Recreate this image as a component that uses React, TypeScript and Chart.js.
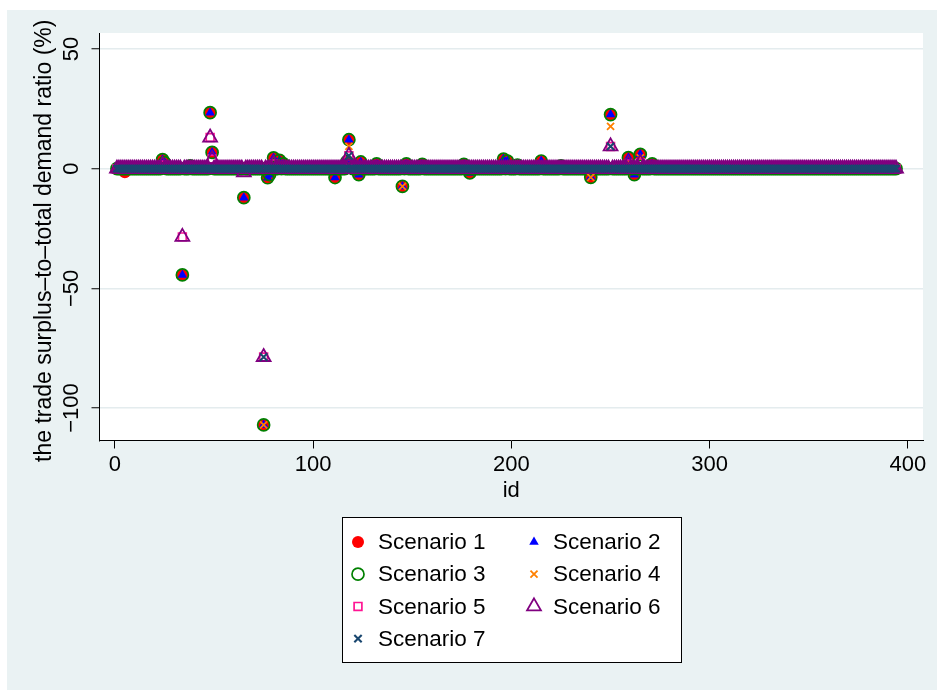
import React, { useEffect, useRef } from 'react';
import { Chart, registerables } from 'chart.js';

Chart.register(...registerables);

// ---------- Data ----------
const xTickValues = [0, 100, 200, 300, 400];
const yTickValues = [-100, -50, 0, 50];
const yTickLabels = ['\u2212100', '\u221250', '0', '50'];
const xTitle = 'id';
const yTitle = 'the trade surplus\u2013to\u2013total demand ratio (%)';
const scenarioNames = ['Scenario 1', 'Scenario 2', 'Scenario 3', 'Scenario 4', 'Scenario 5', 'Scenario 6', 'Scenario 7'];

// values for id = 1 .. 394 (20 per line)
const scenario1 = [
  0,0,0,0,-1.5,0,0,0,0,0, 0,0,0,0,0,0,0,0,0,0,
  0,0,0,3.8,2.5,0,0,0,0,0, 0,0,0,-44.4,0,0,0,1.2,0,0,
  0,0,0,0,0,0,0,23.4,6.8,0, 0,0,0,0,0,0,0,0,0,0,
  0,0,0,0,-12.1,0,0,0,0,0, 0,0,0,0,-107.1,0,-3.8,-2.5,0,4.5,
  0,0,3.5,0,2,0,0,0,0,0, 0,0,0,0,0,0,0,0,0,0,
  0,0,0,0,0,0,0,0,0,0, -3.7,0,0,0,0,0,3,12.1,2,0,
  0,0,-2.5,2.8,0,0,0,0,0,0, 0,2,0,0,0,0,0,0,0,0,
  0,0,0,0,-7.4,0,2,0,0,0, 0,0,0,0,1.8,0,0,0,0,0,
  0,0,0,0,0,0,0,0,0,0, 0,0,0,0,0,1.8,0,0,-1.8,0,
  0,0,0,0,0,0,0,0,0,0, 0,0,0,0,0,4,0,3.2,0,0,
  0,0,1.5,0,0,0,0,0,0,0, 0,0,0,0,3.2,0,0,0,0,0,
  0,0,0,0,1.2,0,0,0,0,0, 0,0,0,0,0,0,0,0,0,-3.6,
  0,0,0,0,0,0,0,0,0,22.6, 0,0,0,0,0,0,0,0,4.6,0,
  0,-2.5,0,0,6,0,0,0,0,0, 2,0,0,0,0,0,0,0,0,0,
  0,0,0,0,0,0,0,0,0,0, 0,0,0,0,0,0,0,0,0,0,
  0,0,0,0,0,0,0,0,0,0, 0,0,0,0,0,0,0,0,0,0,
  0,0,0,0,0,0,0,0,0,0, 0,0,0,0,0,0,0,0,0,0,
  0,0,0,0,0,0,0,0,0,0, 0,0,0,0,0,0,0,0,0,0,
  0,0,0,0,0,0,0,0,0,0, 0,0,0,0,0,0,0,0,0,0,
  0,0,0,0,0,0,0,0,0,0, 0,0,0,0,
];

const scenario2 = [
  0,0,0,0,0,0,0,0,0,0, 0,0,0,0,0,0,0,0,0,0,
  0,0,0,3.8,2.5,0,0,0,0,0, 0,0,0,-44.4,0,0,0,1.2,0,0,
  0,0,0,0,0,0,0,23.4,6.8,0, 0,0,0,0,0,0,0,0,0,0,
  0,0,0,0,-12.1,0,0,0,0,0, 0,0,0,0,-107.1,0,-3.8,-2.5,0,4.5,
  0,0,3.5,0,2,0,0,0,0,0, 0,0,0,0,0,0,0,0,0,0,
  0,0,0,0,0,0,0,0,0,0, -3.7,0,0,0,0,0,3,12.1,2,0,
  0,0,-2.5,2.8,0,0,0,0,0,0, 0,2,0,0,0,0,0,0,0,0,
  0,0,0,0,-7.4,0,2,0,0,0, 0,0,0,0,1.8,0,0,0,0,0,
  0,0,0,0,0,0,0,0,0,0, 0,0,0,0,0,1.8,0,0,-1.8,0,
  0,0,0,0,0,0,0,0,0,0, 0,0,0,0,0,4,0,3.2,0,0,
  0,0,1.5,0,0,0,0,0,0,0, 0,0,0,0,3.2,0,0,0,0,0,
  0,0,0,0,1.2,0,0,0,0,0, 0,0,0,0,0,0,0,0,0,-3.6,
  0,0,0,0,0,0,0,0,0,22.6, 0,0,0,0,0,0,0,0,4.6,0,
  0,-2.5,0,0,6,0,0,0,0,0, 2,0,0,0,0,0,0,0,0,0,
  0,0,0,0,0,0,0,0,0,0, 0,0,0,0,0,0,0,0,0,0,
  0,0,0,0,0,0,0,0,0,0, 0,0,0,0,0,0,0,0,0,0,
  0,0,0,0,0,0,0,0,0,0, 0,0,0,0,0,0,0,0,0,0,
  0,0,0,0,0,0,0,0,0,0, 0,0,0,0,0,0,0,0,0,0,
  0,0,0,0,0,0,0,0,0,0, 0,0,0,0,0,0,0,0,0,0,
  0,0,0,0,0,0,0,0,0,0, 0,0,0,0,
];

const scenario3 = [
  0,0,0,0,0,0,0,0,0,0, 0,0,0,0,0,0,0,0,0,0,
  0,0,0,3.8,2.5,0,0,0,0,0, 0,0,0,-44.4,0,0,0,1.2,0,0,
  0,0,0,0,0,0,0,23.4,6.8,0, 0,0,0,0,0,0,0,0,0,0,
  0,0,0,0,-12.1,0,0,0,0,0, 0,0,0,0,-107.1,0,-3.8,-2.5,0,4.5,
  0,0,3.5,0,2,0,0,0,0,0, 0,0,0,0,0,0,0,0,0,0,
  0,0,0,0,0,0,0,0,0,0, -3.7,0,0,0,0,0,3,12.1,2,0,
  0,0,-2.5,2.8,0,0,0,0,0,0, 0,2,0,0,0,0,0,0,0,0,
  0,0,0,0,-7.4,0,2,0,0,0, 0,0,0,0,1.8,0,0,0,0,0,
  0,0,0,0,0,0,0,0,0,0, 0,0,0,0,0,1.8,0,0,-1.8,0,
  0,0,0,0,0,0,0,0,0,0, 0,0,0,0,0,4,0,3.2,0,0,
  0,0,1.5,0,0,0,0,0,0,0, 0,0,0,0,3.2,0,0,0,0,0,
  0,0,0,0,1.2,0,0,0,0,0, 0,0,0,0,0,0,0,0,0,-3.6,
  0,0,0,0,0,0,0,0,0,22.6, 0,0,0,0,0,0,0,0,4.6,0,
  0,-2.5,0,0,6,0,0,0,0,0, 2,0,0,0,0,0,0,0,0,0,
  0,0,0,0,0,0,0,0,0,0, 0,0,0,0,0,0,0,0,0,0,
  0,0,0,0,0,0,0,0,0,0, 0,0,0,0,0,0,0,0,0,0,
  0,0,0,0,0,0,0,0,0,0, 0,0,0,0,0,0,0,0,0,0,
  0,0,0,0,0,0,0,0,0,0, 0,0,0,0,0,0,0,0,0,0,
  0,0,0,0,0,0,0,0,0,0, 0,0,0,0,0,0,0,0,0,0,
  0,0,0,0,0,0,0,0,0,0, 0,0,0,0,
];

const scenario4 = [
  0,0,0,0,0,0,0,0,0,0, 0,0,0,0,0,0,0,0,0,0,
  0,0,0,0,0,0,0,0,0,0, 0,0,0,0,0,0,0,0,0,0,
  0,0,0,0,0,0,0,0,0,0, 0,0,0,0,0,0,0,0,0,0,
  0,0,0,0,0,0,0,0,0,0, 0,0,0,0,-107.1,0,0,0,0,0,
  0,0,0,0,0,0,0,0,0,0, 0,0,0,0,0,0,0,0,0,0,
  0,0,0,0,0,0,0,0,0,0, 0,0,0,0,0,0,0,9.3,0,0,
  0,0,0,0,0,0,0,0,0,0, 0,0,0,0,0,0,0,0,0,0,
  0,0,0,0,-7.4,0,0,0,0,0, 0,0,0,0,0,0,0,0,0,0,
  0,0,0,0,0,0,0,0,0,0, 0,0,0,0,0,0,0,0,0,0,
  0,0,0,0,0,0,0,0,0,0, 0,0,0,0,0,0,0,0,0,0,
  0,0,0,0,0,0,0,0,0,0, 0,0,0,0,0,0,0,0,0,0,
  0,0,0,0,0,0,0,0,0,0, 0,0,0,0,0,0,0,0,0,-3.6,
  0,0,0,0,0,0,0,0,0,17.7, 0,0,0,0,0,0,0,0,2.5,0,
  0,0,0,0,4.5,0,0,0,0,0, 0,0,0,0,0,0,0,0,0,0,
  0,0,0,0,0,0,0,0,0,0, 0,0,0,0,0,0,0,0,0,0,
  0,0,0,0,0,0,0,0,0,0, 0,0,0,0,0,0,0,0,0,0,
  0,0,0,0,0,0,0,0,0,0, 0,0,0,0,0,0,0,0,0,0,
  0,0,0,0,0,0,0,0,0,0, 0,0,0,0,0,0,0,0,0,0,
  0,0,0,0,0,0,0,0,0,0, 0,0,0,0,0,0,0,0,0,0,
  0,0,0,0,0,0,0,0,0,0, 0,0,0,0,
];

const scenario5 = [
  0,0,0,0,0,0,0,0,0,0, 0,0,0,0,0,0,0,0,0,0,
  0,0,0,1.5,0,0,0,0,0,0, 0,0,0,-28.5,0,0,0,0,0,0,
  0,0,0,0,0,0,0,13,4,0, 0,0,0,0,0,0,0,0,0,0,
  0,0,0,0,0,0,0,0,0,0, 0,0,0,0,-78.7,0,0,0,0,2,
  0,0,0,0,0,0,0,0,0,0, 0,0,0,0,0,0,0,0,0,0,
  0,0,0,0,0,0,0,0,0,0, 0,0,0,0,0,0,0,5.4,0,0,
  0,0,0,0,0,0,0,0,0,0, 0,0,0,0,0,0,0,0,0,0,
  0,0,0,0,0,0,0,0,0,0, 0,0,0,0,0,0,0,0,0,0,
  0,0,0,0,0,0,0,0,0,0, 0,0,0,0,0,0,0,0,0,0,
  0,0,0,0,0,0,0,0,0,0, 0,0,0,0,0,0,0,0,0,0,
  0,0,0,0,0,0,0,0,0,0, 0,0,0,0,0,0,0,0,0,0,
  0,0,0,0,0,0,0,0,0,0, 0,0,0,0,0,0,0,0,0,0,
  0,0,0,0,0,0,0,0,0,9.3, 0,0,0,0,0,0,0,0,2,0,
  0,0,0,0,2.5,0,0,0,0,0, 0,0,0,0,0,0,0,0,0,0,
  0,0,0,0,0,0,0,0,0,0, 0,0,0,0,0,0,0,0,0,0,
  0,0,0,0,0,0,0,0,0,0, 0,0,0,0,0,0,0,0,0,0,
  0,0,0,0,0,0,0,0,0,0, 0,0,0,0,0,0,0,0,0,0,
  0,0,0,0,0,0,0,0,0,0, 0,0,0,0,0,0,0,0,0,0,
  0,0,0,0,0,0,0,0,0,0, 0,0,0,0,0,0,0,0,0,0,
  0,0,0,0,0,0,0,0,0,0, 0,0,0,0,
];

const scenario6 = [
  0,0,0,0,0,0,0,0,0,0, 0,0,0,0,0,0,0,0,0,0,
  0,0,0,1.5,0,0,0,0,0,0, 0,0,0,-28.5,0,0,0,0,0,0,
  0,0,0,0,0,0,0,13,4,0, 0,0,0,0,0,0,0,0,0,0,
  0,0,0,0,-1.5,0,0,0,0,0, 0,0,0,0,-78.7,0,0,0,0,2,
  0,0,0,0,0,0,0,0,0,0, 0,0,0,0,0,0,0,0,0,0,
  0,0,0,0,0,0,0,0,0,0, 0,0,0,0,0,0,0,5.4,0,0,
  0,0,0,0,0,0,0,0,0,0, 0,0,0,0,0,0,0,0,0,0,
  0,0,0,0,0,0,0,0,0,0, 0,0,0,0,0,0,0,0,0,0,
  0,0,0,0,0,0,0,0,0,0, 0,0,0,0,0,0,0,0,0,0,
  0,0,0,0,0,0,0,0,0,0, 0,0,0,0,0,0,0,0,0,0,
  0,0,0,0,0,0,0,0,0,0, 0,0,0,0,0,0,0,0,0,0,
  0,0,0,0,0,0,0,0,0,0, 0,0,0,0,0,0,0,0,0,0,
  0,0,0,0,0,0,0,0,0,9.3, 0,0,0,0,0,0,0,0,2,0,
  0,0,0,0,2.5,0,0,0,0,0, 0,0,0,0,0,0,0,0,0,0,
  0,0,0,0,0,0,0,0,0,0, 0,0,0,0,0,0,0,0,0,0,
  0,0,0,0,0,0,0,0,0,0, 0,0,0,0,0,0,0,0,0,0,
  0,0,0,0,0,0,0,0,0,0, 0,0,0,0,0,0,0,0,0,0,
  0,0,0,0,0,0,0,0,0,0, 0,0,0,0,0,0,0,0,0,0,
  0,0,0,0,0,0,0,0,0,0, 0,0,0,0,0,0,0,0,0,0,
  0,0,0,0,0,0,0,0,0,0, 0,0,0,0,
];

const scenario7 = [
  0,0,0,0,0,0,0,0,0,0, 0,0,0,0,0,0,0,0,0,0,
  0,0,0,0,0,0,0,0,0,0, 0,0,0,0,0,0,0,0,0,0,
  0,0,0,0,0,0,0,0,0,0, 0,0,0,0,0,0,0,0,0,0,
  0,0,0,0,0,0,0,0,0,0, 0,0,0,0,-78.7,0,0,0,0,0,
  0,0,0,0,0,0,0,0,0,0, 0,0,0,0,0,0,0,0,0,0,
  0,0,0,0,0,0,0,0,0,0, 0,0,0,0,0,0,0,5.4,0,0,
  0,0,0,0,0,0,0,0,0,0, 0,0,0,0,0,0,0,0,0,0,
  0,0,0,0,0,0,0,0,0,0, 0,0,0,0,0,0,0,0,0,0,
  0,0,0,0,0,0,0,0,0,0, 0,0,0,0,0,0,0,0,0,0,
  0,0,0,0,0,0,0,0,0,0, 0,0,0,0,0,0,0,0,0,0,
  0,0,0,0,0,0,0,0,0,0, 0,0,0,0,0,0,0,0,0,0,
  0,0,0,0,0,0,0,0,0,0, 0,0,0,0,0,0,0,0,0,0,
  0,0,0,0,0,0,0,0,0,9.3, 0,0,0,0,0,0,0,0,0,0,
  0,0,0,0,0,0,0,0,0,0, 0,0,0,0,0,0,0,0,0,0,
  0,0,0,0,0,0,0,0,0,0, 0,0,0,0,0,0,0,0,0,0,
  0,0,0,0,0,0,0,0,0,0, 0,0,0,0,0,0,0,0,0,0,
  0,0,0,0,0,0,0,0,0,0, 0,0,0,0,0,0,0,0,0,0,
  0,0,0,0,0,0,0,0,0,0, 0,0,0,0,0,0,0,0,0,0,
  0,0,0,0,0,0,0,0,0,0, 0,0,0,0,0,0,0,0,0,0,
  0,0,0,0,0,0,0,0,0,0, 0,0,0,0,
];

const ids = scenario1.map((_, i) => i + 1);

// ---------- Styles ----------
const FONT = '"Liberation Sans", Arial, Helvetica, sans-serif';
const BG = '#eaf2f3';
const GRID = '#e4ecee';

type Marker = { style: string; r: number; fill: string; stroke: string; bw: number };
const markers: Marker[] = [
  { style: 'circle', r: 6, fill: '#ff0000', stroke: '#ff0000', bw: 0 },
  { style: 'triangle', r: 5.5, fill: '#0000ff', stroke: '#0000ff', bw: 0 },
  { style: 'circle', r: 6, fill: 'rgba(0,0,0,0)', stroke: '#008000', bw: 1.7 },
  { style: 'crossRot', r: 5, fill: 'rgba(0,0,0,0)', stroke: '#ff8000', bw: 1.8 },
  { style: 'rect', r: 5.5, fill: 'rgba(0,0,0,0)', stroke: '#ff1493', bw: 1.7 },
  { style: 'triangle', r: 8, fill: 'rgba(0,0,0,0)', stroke: '#800080', bw: 1.8 },
  { style: 'crossRot', r: 5.2, fill: 'rgba(0,0,0,0)', stroke: '#1a476f', bw: 2.1 },
];

const series = [scenario1, scenario2, scenario3, scenario4, scenario5, scenario6, scenario7];

function drawMarker(ctx: CanvasRenderingContext2D, m: Marker, x: number, y: number) {
  ctx.save();
  ctx.lineWidth = m.bw;
  ctx.strokeStyle = m.stroke;
  ctx.fillStyle = m.fill;
  ctx.beginPath();
  const r = m.r;
  if (m.style === 'circle') {
    ctx.arc(x, y, r, 0, Math.PI * 2);
  } else if (m.style === 'triangle') {
    const a = (2 * Math.PI) / 3;
    ctx.moveTo(x, y - r);
    ctx.lineTo(x + r * Math.sin(a), y - r * Math.cos(a));
    ctx.lineTo(x + r * Math.sin(2 * a), y - r * Math.cos(2 * a));
    ctx.closePath();
  } else if (m.style === 'rect') {
    const s = r * Math.SQRT1_2;
    ctx.rect(x - s, y - s, 2 * s, 2 * s);
  } else if (m.style === 'crossRot') {
    const d = r * Math.SQRT1_2;
    ctx.moveTo(x - d, y - d);
    ctx.lineTo(x + d, y + d);
    ctx.moveTo(x + d, y - d);
    ctx.lineTo(x - d, y + d);
  }
  if (m.style !== 'crossRot') ctx.fill();
  if (m.bw > 0) ctx.stroke();
  ctx.restore();
}

const decorPlugin = {
  id: 'stataDecor',
  beforeDraw(chart: any) {
    const { ctx, chartArea: a, width, height } = chart;
    ctx.save();
    ctx.fillStyle = BG;
    ctx.fillRect(0, 0, width, height);
    ctx.fillStyle = '#ffffff';
    ctx.fillRect(a.left, a.top, a.right - a.left, a.bottom - a.top);
    ctx.restore();
  },
  afterDraw(chart: any) {
    const { ctx, chartArea: a } = chart;
    const ys = chart.scales.y;
    ctx.save();
    ctx.fillStyle = '#000';
    ctx.textAlign = 'center';
    ctx.textBaseline = 'middle';
    // y tick labels (rotated)
    ctx.font = `22px ${FONT}`;
    yTickValues.forEach((v, i) => {
      const py = ys.getPixelForValue(v);
      ctx.save();
      ctx.translate(65, py);
      ctx.rotate(-Math.PI / 2);
      ctx.fillText(yTickLabels[i], 0, 0);
      ctx.restore();
    });
    // y title
    ctx.font = `23px ${FONT}`;
    ctx.save();
    ctx.translate(38, (a.top + a.bottom) / 2 + 4);
    ctx.rotate(-Math.PI / 2);
    ctx.fillText(yTitle, 0, 0);
    ctx.restore();
    // x title
    ctx.font = `22px ${FONT}`;
    ctx.fillText(xTitle, (a.left + a.right) / 2, 481);
    // legend box
    const bx = 335.5, by = 507.5, bw = 339, bh = 145;
    ctx.fillStyle = '#ffffff';
    ctx.fillRect(bx, by, bw, bh);
    ctx.strokeStyle = '#000';
    ctx.lineWidth = 1;
    ctx.strokeRect(bx, by, bw, bh);
    const colMarker = [351, 527];
    const colText = [371, 546];
    const rowY = [532, 564.2, 596.4, 628.6];
    ctx.font = `22.5px ${FONT}`;
    ctx.textAlign = 'left';
    ctx.textBaseline = 'middle';
    scenarioNames.forEach((name, i) => {
      const col = i % 2;
      const row = Math.floor(i / 2);
      drawMarker(ctx, markers[i], colMarker[col], rowY[row]);
      ctx.fillStyle = '#000';
      ctx.fillText(name, colText[col], rowY[row] + 1);
    });
    ctx.restore();
  },
};

export default function App() {
  const ref = useRef<HTMLCanvasElement>(null);
  useEffect(() => {
    if (!ref.current) return;
    const datasets = series.map((vals, i) => ({
      label: scenarioNames[i],
      data: vals.map((v, j) => ({ x: ids[j], y: v })),
      pointStyle: markers[i].style as any,
      pointRadius: markers[i].r,
      pointBackgroundColor: markers[i].fill,
      pointBorderColor: markers[i].stroke,
      pointBorderWidth: markers[i].bw,
      backgroundColor: markers[i].fill,
      borderColor: markers[i].stroke,
      borderWidth: markers[i].bw,
      showLine: false,
      order: 7 - i,
    }));
    const chart = new Chart(ref.current, {
      type: 'scatter',
      data: { datasets },
      options: {
        responsive: false,
        animation: false,
        devicePixelRatio: 1,
        events: [],
        layout: { padding: { top: 23, right: 14, left: 0, bottom: 0 } },
        plugins: { legend: { display: false }, tooltip: { enabled: false } },
        scales: {
          x: {
            type: 'linear',
            position: 'bottom',
            min: -7.8,
            max: 407.6,
            afterBuildTicks: (s: any) => { s.ticks = xTickValues.map((v) => ({ value: v })); },
            afterFit: (s: any) => { s.height = 249.5; },
            grid: { drawOnChartArea: false, drawTicks: true, tickLength: 8, tickColor: '#000', tickWidth: 1 },
            border: { display: true, color: '#000', width: 1 },
            ticks: {
              color: '#000',
              font: { family: FONT, size: 22 },
              padding: 3,
              maxRotation: 0,
              autoSkip: false,
              callback: (v: any) => String(v),
            },
          },
          y: {
            type: 'linear',
            min: -113.6,
            max: 56.7,
            afterBuildTicks: (s: any) => { s.ticks = yTickValues.map((v) => ({ value: v })); },
            afterFit: (s: any) => { s.width = 92.5; },
            grid: { color: GRID, lineWidth: 1.5, drawTicks: true, tickLength: 8, tickColor: '#000', tickWidth: 1 },
            border: { display: true, color: '#000', width: 1 },
            ticks: { display: false },
          },
        },
      } as any,
      plugins: [decorPlugin],
    });
    return () => chart.destroy();
  }, []);
  return (
    <div style={{ position: 'absolute', left: 7, top: 10, width: 930, height: 680 }}>
      <canvas ref={ref} width={930} height={680} style={{ display: 'block', width: 930, height: 680 }} />
    </div>
  );
}
